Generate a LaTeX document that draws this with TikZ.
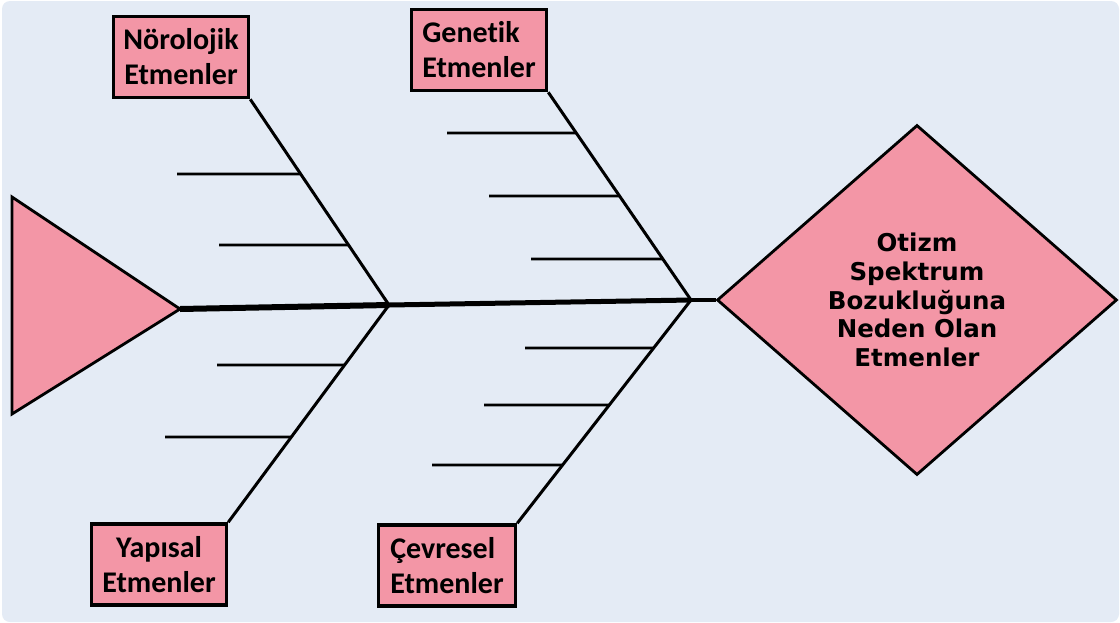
\documentclass[tikz,border=0pt]{standalone}
\usepackage{fontspec}
\setmainfont{Carlito}[Ligatures=NoCommon]
\newfontfamily\diafont{DejaVu Sans}
\usetikzlibrary{shapes.geometric,calc}
\definecolor{bgblue}{HTML}{E4EBF5}
\definecolor{pinkfill}{HTML}{F396A6}
\tikzset{
  causebox/.style={draw=black, line width=3.5pt, fill=pinkfill, minimum width=135pt, minimum height=81pt, inner sep=2pt, font=\fontsize{30}{35}\selectfont\bfseries},
  bone/.style={draw=black, line width=3pt},
  subbone/.style={draw=black, line width=2.8pt},
}
\begin{document}
\begin{tikzpicture}[x=1pt,y=-1pt]
\useasboundingbox (0,0) rectangle (1120,622);
\fill[white] (0,0) rectangle (1120,622);
\fill[bgblue, rounded corners=8pt] (2,1) rectangle (1119,622);

% head triangle (tail of fish)
\coordinate (tail) at (180,309);
\filldraw[fill=pinkfill, draw=black, line width=2.8pt, line join=miter] (12,197) -- (12,414) -- (tail) -- cycle;

% goal diamond
\node[diamond, draw=black, line width=2.8pt, fill=pinkfill, minimum width=400pt, minimum height=350pt, aspect=1.143, inner sep=0pt, align=center, font=\diafont\bfseries\fontsize{24.5}{28.6}\selectfont] (goal) at (917,300)
  {Otizm\\Spektrum\\Bozukluğuna\\Neden Olan\\Etmenler};

% junctions
\coordinate (j1) at (389,305);
\coordinate (j2) at (691,300);

% spine
\draw[line width=6pt] (tail) -- (j1);
\draw[line width=5pt] (j1) -- (j2);
\draw[line width=4pt] (j2) -- (goal.west);

% cause boxes
\node[causebox, align=center] (nor) at (181,57) {Nörolojik\\Etmenler};
\node[causebox, align=left] (gen) at (479,50) {Genetik\\Etmenler};
\node[causebox, align=center] (yap) at (159,564.5) {Yapısal\\Etmenler};
\node[causebox, align=left, minimum width=137pt] (cev) at (447,565.5) {Çevresel\\Etmenler};

% main bones
\draw[bone] (nor.south east) -- (j1);
\draw[bone] (gen.south east) -- (j2);
\draw[bone] (yap.north east) -- (j1);
\draw[bone] (cev.north east) -- (j2);

% sub-bone ends on the main bones
\coordinate (n1) at (intersection of nor.south east--j1 and 0,174--1000,174);
\coordinate (n2) at (intersection of nor.south east--j1 and 0,245--1000,245);
\coordinate (g1) at (intersection of gen.south east--j2 and 0,133--1000,133);
\coordinate (g2) at (intersection of gen.south east--j2 and 0,196--1000,196);
\coordinate (g3) at (intersection of gen.south east--j2 and 0,259--1000,259);
\coordinate (y1) at (intersection of yap.north east--j1 and 0,365--1000,365);
\coordinate (y2) at (intersection of yap.north east--j1 and 0,437--1000,437);
\coordinate (c1) at (intersection of cev.north east--j2 and 0,348--1000,348);
\coordinate (c2) at (intersection of cev.north east--j2 and 0,405--1000,405);
\coordinate (c3) at (intersection of cev.north east--j2 and 0,465--1000,465);

% free ends of sub-bones
\coordinate (n1e) at (177,174);
\coordinate (n2e) at (219,245);
\coordinate (g1e) at (447,133);
\coordinate (g2e) at (489,196);
\coordinate (g3e) at (531,259);
\coordinate (y1e) at (217,365);
\coordinate (y2e) at (165,437);
\coordinate (c1e) at (525,348);
\coordinate (c2e) at (484,405);
\coordinate (c3e) at (432,465);

\foreach \a in {n1,n2,g1,g2,g3,y1,y2,c1,c2,c3}{
  \draw[subbone] (\a e) -- (\a);
}
\end{tikzpicture}
\end{document}
